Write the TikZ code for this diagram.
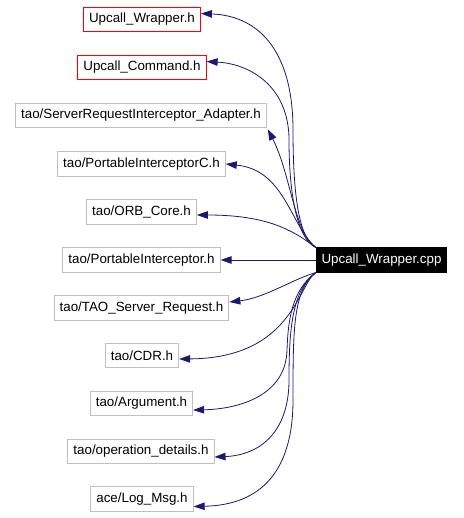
\documentclass[tikz,border=0pt]{standalone}
\usepackage{fontspec}
\setmainfont{Liberation Sans}
\usepackage{xcolor}
\usetikzlibrary{arrows.meta}
\definecolor{edgeblue}{RGB}{25,25,112}
\definecolor{boxgrey}{RGB}{191,191,191}

\begin{document}
\begin{tikzpicture}[
  x=1bp,y=-1bp,
  font=\fontsize{13.4}{15}\selectfont,
  incl/.style={draw=boxgrey, line width=1bp, fill=white,
               minimum height=24.5bp, inner xsep=5.5bp, inner ysep=0pt},
  ownincl/.style={incl, draw=red},
  src/.style={draw=black, fill=black, text=white, line width=1bp,
              minimum height=24.5bp, inner xsep=5.5bp, inner ysep=0pt},
  dep/.style={-{Triangle[length=11bp,width=7.5bp]}, line width=0.8bp, draw=edgeblue}
]
\useasboundingbox (0,0) rectangle (464,518);

\node[ownincl] (wrap) at (142,19.5) {Upcall\_Wrapper.h};
\node[ownincl] (cmd) at (142,67.5) {Upcall\_Command.h};
\node[incl] (adapter) at (141,115.5) {tao/ServerRequestInterceptor\_Adapter.h};
\node[incl] (pic) at (141.5,164) {tao/PortableInterceptorC.h};
\node[incl] (orb) at (141.5,212) {tao/ORB\_Core.h};
\node[incl] (pi) at (141.5,260) {tao/PortableInterceptor.h};
\node[incl] (tsr) at (141.5,308) {tao/TAO\_Server\_Request.h};
\node[incl] (cdr) at (142,355.5) {tao/CDR.h};
\node[incl] (arg) at (141.5,403.5) {tao/Argument.h};
\node[incl] (opd) at (141,451.5) {tao/operation\_details.h};
\node[incl] (log) at (142,499) {ace/Log\_Msg.h};

\node[src] (cpp) at (381.5,260) {Upcall\_Wrapper.cpp};

\draw[dep] (cpp.north west) .. controls (298,238) and (293,190) .. (293,130)
  .. controls (293,55) and (262,16) .. ([yshift=6bp]wrap.east);
\draw[dep] (cpp.north west) .. controls (296,238) and (289,190) .. (289,140)
  .. controls (289,88) and (252,64) .. ([yshift=6bp]cmd.east);
\draw[dep] (cpp.north west) .. controls (294,232) and (291,175) .. ([xshift=1bp,yshift=-1bp]adapter.south east);
\draw[dep] (cpp.north west) .. controls (290,225) and (285,170) .. (pic.east);
\draw[dep] (cpp.north west) .. controls (295,232) and (270,215) .. ([yshift=-3bp]orb.east);
\draw[dep] (cpp.west) -- (pi.east);
\draw[dep] (cpp.south west) .. controls (295,278) and (265,298) .. ([yshift=6bp]tsr.east);
\draw[dep] (cpp.south west) .. controls (298,285) and (292,358) .. ([yshift=-3.5bp]cdr.east);
\draw[dep] (cpp.south west) .. controls (292,290) and (288,320) .. (287,350)
  .. controls (286,395) and (240,409) .. ([yshift=-6.5bp]arg.east);
\draw[dep] (cpp.south west) .. controls (292,290) and (289,330) .. (289,380)
  .. controls (289,430) and (262,455) .. ([yshift=-5.5bp]opd.east);
\draw[dep] (cpp.south west) .. controls (293,290) and (293,330) .. (293,400)
  .. controls (293,470) and (262,505) .. ([yshift=-7.5bp]log.east);

\end{tikzpicture}
\end{document}
